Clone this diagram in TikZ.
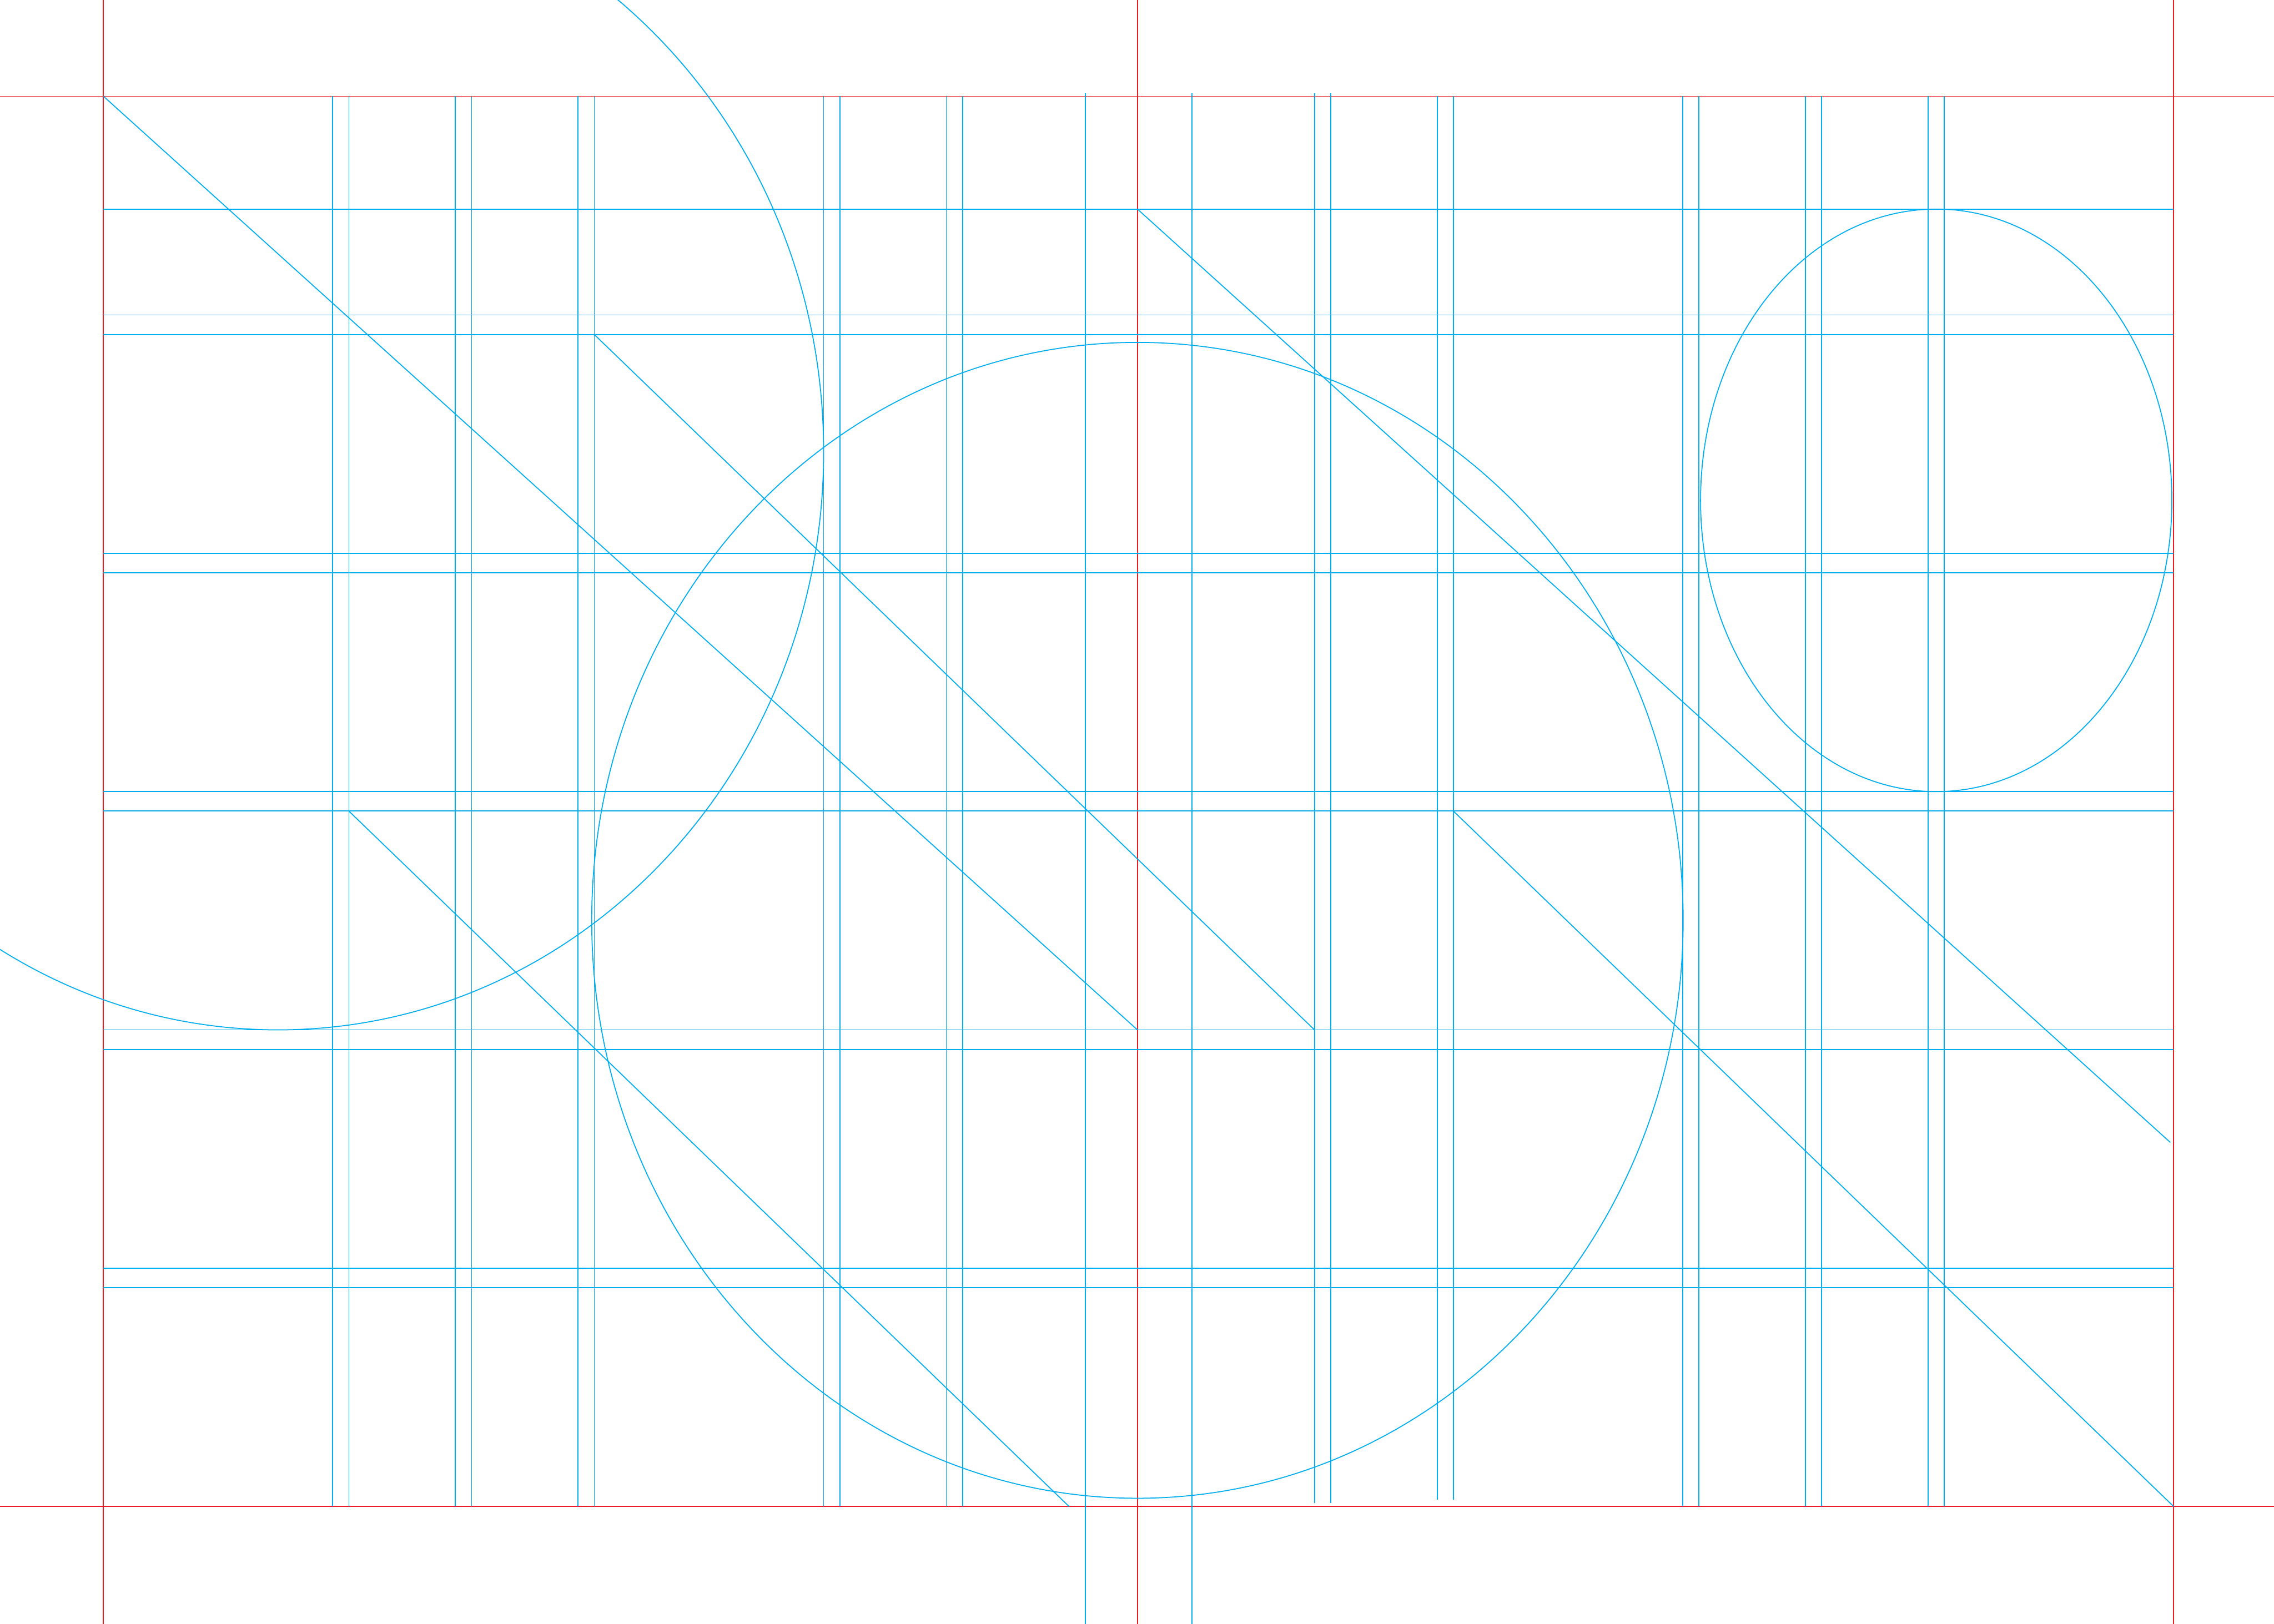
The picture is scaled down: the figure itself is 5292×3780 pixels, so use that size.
\documentclass[tikz,border=0pt]{standalone}
\definecolor{gred}{RGB}{237,28,36}
\definecolor{gblue}{RGB}{0,174,239}
\begin{document}
\begin{tikzpicture}[x=0.01cm,y=-0.01cm,
  redline/.style={draw=gred,line width=0.65pt},
  blueline/.style={draw=gblue,line width=0.65pt}]
\useasboundingbox (0,0) rectangle (5292,3780);
\clip (0,0) rectangle (5292,3780);
% red frame lines
\draw[redline] (240.7,0) -- (240.7,3780);
\draw[redline] (2647,0) -- (2647,3780);
\draw[redline] (5058.3,0) -- (5058.3,3780);
\draw[redline] (0,224) -- (5292,224);
\draw[redline] (0,3506.7) -- (5292,3506.7);
% blue horizontal lines
\foreach \y in {486.7,733.3,778.7,1288,1333.3,1842.7,1888,2397.3,2442.7,2952,2997.3}
  \draw[blueline] (240.7,\y) -- (5058.3,\y);
% blue vertical lines (full height of frame)
\foreach \x in {774.2,811.9,1059.8,1097.5,1345.4,1383.1,1916.6,1954.3,2202.2,2239.9,3915.8,3953.5,4201.4,4239.1,4487.0,4524.7}
  \draw[blueline] (\x,224) -- (\x,3506.7);
\foreach \x in {3059.0,3096.7}
  \draw[blueline] (\x,216.7) -- (\x,3499);
\foreach \x in {3344.6,3382.3}
  \draw[blueline] (\x,224) -- (\x,3491.3);
\foreach \x in {2525.5,2773.4}
  \draw[blueline] (\x,216.7) -- (\x,3780);
% diagonals
\coordinate (d1a) at (240.7,224);   \coordinate (d1b) at (2647,2397.3);
\coordinate (d2a) at (1383.1,778.7); \coordinate (d2b) at (3059,2397.3);
\coordinate (d3a) at (811.9,1888);  \coordinate (d3b) at (2487.8,3506.7);
\coordinate (d4a) at (2647,486.7);  \coordinate (d4b) at (5050.7,2659.3);
\coordinate (d5a) at (3382.3,1888); \coordinate (d5b) at (5058.3,3506.7);
\draw[blueline] (d1a) -- (d1b);
\draw[blueline] (d2a) -- (d2b);
\draw[blueline] (d3a) -- (d3b);
\draw[blueline] (d4a) -- (d4b);
\draw[blueline] (d5a) -- (d5b);
% ellipses
\draw[blueline] (2647,2142.3) ellipse [x radius=1270, y radius=1345.3];
\draw[blueline] (646.7,1052) ellipse [x radius=1270, y radius=1345.3];
\draw[blueline] (4505.9,1164.7) ellipse [x radius=548.4, y radius=678];
\end{tikzpicture}
\end{document}
